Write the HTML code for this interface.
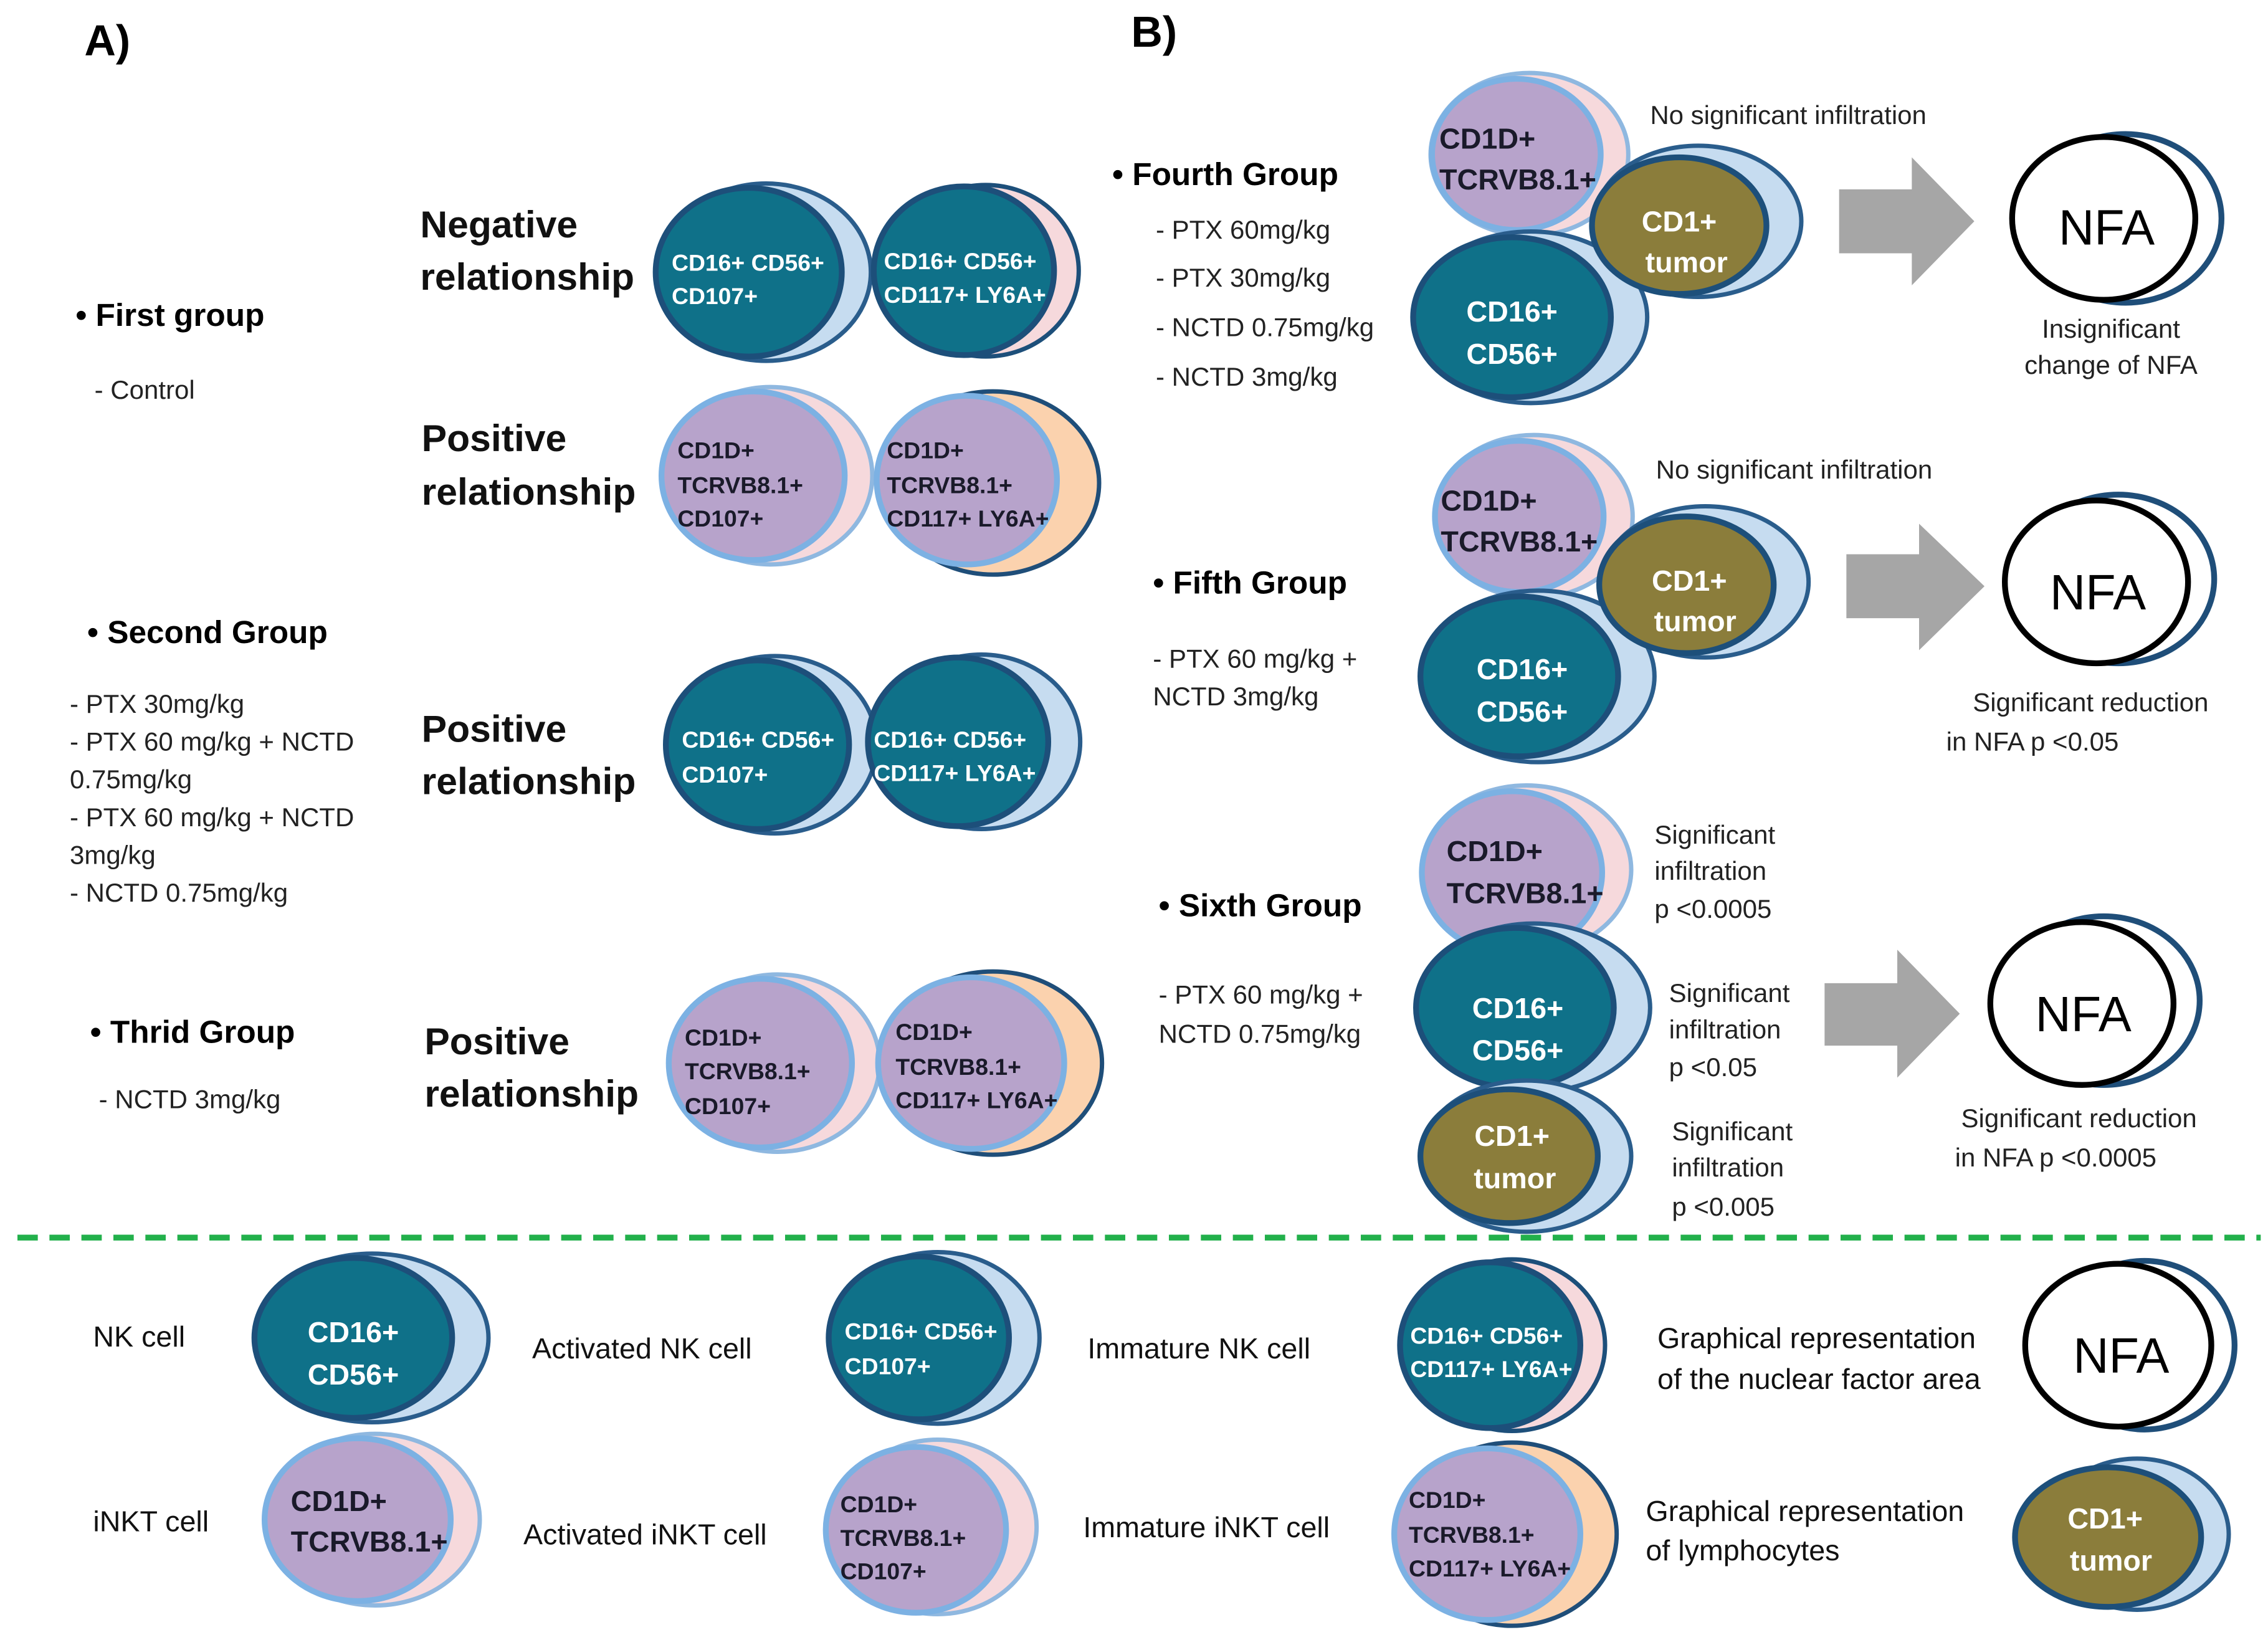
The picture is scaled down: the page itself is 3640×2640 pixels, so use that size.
<!DOCTYPE html>
<html><head><meta charset="utf-8"><style>
html,body{margin:0;padding:0;background:#fff;}
svg{display:block;}
text{font-family:"Liberation Sans",sans-serif;}
.b{font-weight:bold;}
.w{fill:#fff;font-weight:bold;}
.d{fill:#1a1a2a;font-weight:bold;}
.g{font-size:20px;fill:#111;}
.s{font-size:18px;fill:#222;}
.h{font-size:26px;font-weight:bold;fill:#111;}
</style></head><body>
<svg width="3640" height="2640" viewBox="0 0 1560 1131" xmlns="http://www.w3.org/2000/svg">
<defs>
<marker id="m"/>
</defs>
<text x="58" y="38" font-size="30" class="b">A)</text>
<text x="778" y="32" font-size="30" class="b">B)</text>

<!-- A groups -->
<text x="52" y="224" font-size="22" class="b">•  First group</text>
<text x="65" y="274" class="s">- Control</text>
<text x="60" y="442" font-size="22" class="b">•  Second Group</text>
<text x="48" y="490" class="s">- PTX 30mg/kg</text>
<text x="48" y="516" class="s">- PTX 60 mg/kg + NCTD</text>
<text x="48" y="542" class="s">0.75mg/kg</text>
<text x="48" y="568" class="s">- PTX 60 mg/kg + NCTD</text>
<text x="48" y="594" class="s">3mg/kg</text>
<text x="48" y="620" class="s">- NCTD 0.75mg/kg</text>
<text x="62" y="717" font-size="22" class="b">•  Thrid Group</text>
<text x="68" y="762" class="s">- NCTD 3mg/kg</text>

<text x="289" y="163" class="h">Negative</text><text x="289" y="199" class="h">relationship</text>
<text x="290" y="310" class="h">Positive</text><text x="290" y="347" class="h">relationship</text>
<text x="290" y="510" class="h">Positive</text><text x="290" y="546" class="h">relationship</text>
<text x="292" y="725" class="h">Positive</text><text x="292" y="761" class="h">relationship</text>

<!-- Row1 -->
<ellipse cx="527" cy="187" rx="72" ry="61" fill="#c6dcf0" stroke="#2a5d8c" stroke-width="3"/>
<ellipse cx="515" cy="187" rx="64" ry="58" fill="#0f7189" stroke="#1d4f7a" stroke-width="4"/>
<text x="462" y="186" font-size="16" class="w">CD16+ CD56+</text><text x="462" y="209" font-size="16" class="w">CD107+</text>
<ellipse cx="678" cy="186" rx="64" ry="59" fill="#f6d9dc" stroke="#1d4f7a" stroke-width="3"/>
<ellipse cx="663" cy="186" rx="62" ry="58" fill="#0f7189" stroke="#1d4f7a" stroke-width="4"/>
<text x="608" y="185" font-size="16" class="w">CD16+ CD56+</text><text x="608" y="208" font-size="16" class="w">CD117+ LY6A+</text>
<!-- Row2 -->
<ellipse cx="530" cy="327" rx="70" ry="61" fill="#f6d9dc" stroke="#8fb8e0" stroke-width="3"/>
<ellipse cx="518" cy="327" rx="63" ry="58" fill="#b7a3cb" stroke="#7cb1e3" stroke-width="4"/>
<text x="466" y="315" font-size="16" class="d">CD1D+</text><text x="466" y="339" font-size="16" class="d">TCRVB8.1+</text><text x="466" y="362" font-size="16" class="d">CD107+</text>
<ellipse cx="683" cy="332" rx="73" ry="63" fill="#fbd2ae" stroke="#1f4e79" stroke-width="3"/>
<ellipse cx="665" cy="330" rx="62" ry="58" fill="#b7a3cb" stroke="#7cb1e3" stroke-width="4"/>
<text x="610" y="315" font-size="16" class="d">CD1D+</text><text x="610" y="339" font-size="16" class="d">TCRVB8.1+</text><text x="610" y="362" font-size="16" class="d">CD117+ LY6A+</text>
<!-- Row3 -->
<ellipse cx="533" cy="512" rx="70" ry="61" fill="#c6dcf0" stroke="#2a5d8c" stroke-width="3"/>
<ellipse cx="521" cy="512" rx="63" ry="58" fill="#0f7189" stroke="#1d4f7a" stroke-width="4"/>
<text x="469" y="514" font-size="16" class="w">CD16+ CD56+</text><text x="469" y="538" font-size="16" class="w">CD107+</text>
<ellipse cx="675" cy="510" rx="68" ry="60" fill="#c6dcf0" stroke="#2a5d8c" stroke-width="3"/>
<ellipse cx="659" cy="510" rx="62" ry="58" fill="#0f7189" stroke="#1d4f7a" stroke-width="4"/>
<text x="601" y="514" font-size="16" class="w">CD16+ CD56+</text><text x="601" y="537" font-size="16" class="w">CD117+ LY6A+</text>
<!-- Row4 -->
<ellipse cx="535" cy="731" rx="70" ry="61" fill="#f6d9dc" stroke="#8fb8e0" stroke-width="3"/>
<ellipse cx="523" cy="731" rx="63" ry="58" fill="#b7a3cb" stroke="#7cb1e3" stroke-width="4"/>
<text x="471" y="719" font-size="16" class="d">CD1D+</text><text x="471" y="742" font-size="16" class="d">TCRVB8.1+</text><text x="471" y="766" font-size="16" class="d">CD107+</text>
<ellipse cx="683" cy="731" rx="75" ry="63" fill="#fbd2ae" stroke="#1f4e79" stroke-width="3"/>
<ellipse cx="668" cy="731" rx="64" ry="59" fill="#b7a3cb" stroke="#7cb1e3" stroke-width="4"/>
<text x="616" y="715" font-size="16" class="d">CD1D+</text><text x="616" y="739" font-size="16" class="d">TCRVB8.1+</text><text x="616" y="762" font-size="16" class="d">CD117+ LY6A+</text>

<!-- B Fourth -->
<text x="765" y="127" font-size="22" class="b">•  Fourth Group</text>
<text x="795" y="164" class="s">- PTX 60mg/kg</text>
<text x="795" y="197" class="s">- PTX 30mg/kg</text>
<text x="795" y="231" class="s">- NCTD 0.75mg/kg</text>
<text x="795" y="265" class="s">- NCTD 3mg/kg</text>
<ellipse cx="1052" cy="106" rx="68" ry="56" fill="#f6d9dc" stroke="#8fb8e0" stroke-width="3"/>
<ellipse cx="1043" cy="106" rx="58" ry="52" fill="#b7a3cb" stroke="#7cb1e3" stroke-width="4"/>
<text x="990" y="102" font-size="20" class="d">CD1D+</text><text x="990" y="130" font-size="20" class="d">TCRVB8.1+</text>
<ellipse cx="1053" cy="218" rx="80" ry="59" fill="#c6dcf0" stroke="#2a5d8c" stroke-width="3"/>
<ellipse cx="1040" cy="218" rx="68" ry="55" fill="#0f7189" stroke="#1d4f7a" stroke-width="4"/>
<text x="1040" y="221" font-size="20" class="w" text-anchor="middle">CD16+</text><text x="1040" y="250" font-size="20" class="w" text-anchor="middle">CD56+</text>
<ellipse cx="1168" cy="152" rx="71" ry="52" fill="#c6dcf0" stroke="#2a5d8c" stroke-width="3"/>
<ellipse cx="1155" cy="155" rx="60" ry="47" fill="#8b7d3b" stroke="#1d4f7a" stroke-width="4"/>
<text x="1155" y="159" font-size="20" class="w" text-anchor="middle">CD1+</text><text x="1160" y="187" font-size="20" class="w" text-anchor="middle">tumor</text>
<text x="1135" y="85" class="s">No significant infiltration</text>
<polygon points="1265,130 1315,130 1315,108 1358,152 1315,196 1315,174 1265,174" fill="#a6a6a6"/>
<ellipse cx="1462" cy="150" rx="66" ry="58" fill="#fff" stroke="#1f4e79" stroke-width="4"/>
<ellipse cx="1447" cy="150" rx="63" ry="56" fill="#fff" stroke="#000" stroke-width="4"/>
<text x="1449" y="168" font-size="34" text-anchor="middle">NFA</text>
<text x="1452" y="232" class="s" text-anchor="middle">Insignificant</text>
<text x="1452" y="257" class="s" text-anchor="middle">change of NFA</text>

<!-- Fifth -->
<text x="793" y="408" font-size="22" class="b">•  Fifth Group</text>
<text x="793" y="459" class="s">- PTX 60 mg/kg +</text>
<text x="793" y="485" class="s">NCTD 3mg/kg</text>
<ellipse cx="1055" cy="355" rx="68" ry="56" fill="#f6d9dc" stroke="#8fb8e0" stroke-width="3"/>
<ellipse cx="1045" cy="355" rx="58" ry="52" fill="#b7a3cb" stroke="#7cb1e3" stroke-width="4"/>
<text x="991" y="351" font-size="20" class="d">CD1D+</text><text x="991" y="379" font-size="20" class="d">TCRVB8.1+</text>
<ellipse cx="1058" cy="465" rx="80" ry="59" fill="#c6dcf0" stroke="#2a5d8c" stroke-width="3"/>
<ellipse cx="1045" cy="465" rx="68" ry="55" fill="#0f7189" stroke="#1d4f7a" stroke-width="4"/>
<text x="1047" y="467" font-size="20" class="w" text-anchor="middle">CD16+</text><text x="1047" y="496" font-size="20" class="w" text-anchor="middle">CD56+</text>
<ellipse cx="1173" cy="400" rx="71" ry="52" fill="#c6dcf0" stroke="#2a5d8c" stroke-width="3"/>
<ellipse cx="1160" cy="402" rx="60" ry="47" fill="#8b7d3b" stroke="#1d4f7a" stroke-width="4"/>
<text x="1162" y="406" font-size="20" class="w" text-anchor="middle">CD1+</text><text x="1166" y="434" font-size="20" class="w" text-anchor="middle">tumor</text>
<text x="1139" y="329" class="s">No significant infiltration</text>
<polygon points="1270,381 1320,381 1320,360 1365,403 1320,447 1320,425 1270,425" fill="#a6a6a6"/>
<ellipse cx="1457" cy="398" rx="66" ry="58" fill="#fff" stroke="#1f4e79" stroke-width="4"/>
<ellipse cx="1442" cy="400" rx="63" ry="56" fill="#fff" stroke="#000" stroke-width="4"/>
<text x="1443" y="419" font-size="34" text-anchor="middle">NFA</text>
<text x="1438" y="489" class="s" text-anchor="middle">Significant reduction</text>
<text x="1398" y="516" class="s" text-anchor="middle">in NFA p &lt;0.05</text>

<!-- Sixth -->
<text x="797" y="630" font-size="22" class="b">•  Sixth Group</text>
<text x="797" y="690" class="s">- PTX 60 mg/kg +</text>
<text x="797" y="717" class="s">NCTD 0.75mg/kg</text>
<ellipse cx="1050" cy="598" rx="72" ry="58" fill="#f6d9dc" stroke="#8fb8e0" stroke-width="3"/>
<ellipse cx="1040" cy="600" rx="62" ry="56" fill="#b7a3cb" stroke="#7cb1e3" stroke-width="4"/>
<text x="995" y="592" font-size="20" class="d">CD1D+</text><text x="995" y="621" font-size="20" class="d">TCRVB8.1+</text>
<ellipse cx="1055" cy="693" rx="80" ry="58" fill="#c6dcf0" stroke="#2a5d8c" stroke-width="3"/>
<ellipse cx="1042" cy="693" rx="68" ry="55" fill="#0f7189" stroke="#1d4f7a" stroke-width="4"/>
<text x="1044" y="700" font-size="20" class="w" text-anchor="middle">CD16+</text><text x="1044" y="729" font-size="20" class="w" text-anchor="middle">CD56+</text>
<ellipse cx="1050" cy="795" rx="72" ry="52" fill="#c6dcf0" stroke="#2a5d8c" stroke-width="3"/>
<ellipse cx="1038" cy="795" rx="61" ry="46" fill="#8b7d3b" stroke="#1d4f7a" stroke-width="4"/>
<text x="1040" y="788" font-size="20" class="w" text-anchor="middle">CD1+</text><text x="1042" y="817" font-size="20" class="w" text-anchor="middle">tumor</text>
<text x="1138" y="580" class="s">Significant</text><text x="1138" y="605" class="s">infiltration</text><text x="1138" y="631" class="s">p &lt;0.0005</text>
<text x="1148" y="689" class="s">Significant</text><text x="1148" y="714" class="s">infiltration</text><text x="1148" y="740" class="s">p &lt;0.05</text>
<text x="1150" y="784" class="s">Significant</text><text x="1150" y="809" class="s">infiltration</text><text x="1150" y="836" class="s">p &lt;0.005</text>
<polygon points="1255,676 1305,676 1305,653 1348,697 1305,741 1305,719 1255,719" fill="#a6a6a6"/>
<ellipse cx="1447" cy="688" rx="66" ry="58" fill="#fff" stroke="#1f4e79" stroke-width="4"/>
<ellipse cx="1432" cy="690" rx="63" ry="56" fill="#fff" stroke="#000" stroke-width="4"/>
<text x="1433" y="709" font-size="34" text-anchor="middle">NFA</text>
<text x="1430" y="775" class="s" text-anchor="middle">Significant reduction</text>
<text x="1414" y="802" class="s" text-anchor="middle">in NFA p &lt;0.0005</text>

<line x1="12" y1="851" x2="1555" y2="851" stroke="#22b04b" stroke-width="4" stroke-dasharray="14,8"/>

<!-- Legend -->
<text x="64" y="926" class="g">NK cell</text>
<ellipse cx="256" cy="920" rx="80" ry="58" fill="#c6dcf0" stroke="#2a5d8c" stroke-width="3"/>
<ellipse cx="243" cy="920" rx="68" ry="55" fill="#0f7189" stroke="#1d4f7a" stroke-width="4"/>
<text x="243" y="923" font-size="20" class="w" text-anchor="middle">CD16+</text><text x="243" y="952" font-size="20" class="w" text-anchor="middle">CD56+</text>
<text x="366" y="934" class="g">Activated NK cell</text>
<ellipse cx="645" cy="920" rx="70" ry="59" fill="#c6dcf0" stroke="#2a5d8c" stroke-width="3"/>
<ellipse cx="632" cy="920" rx="62" ry="56" fill="#0f7189" stroke="#1d4f7a" stroke-width="4"/>
<text x="581" y="921" font-size="16" class="w">CD16+ CD56+</text><text x="581" y="945" font-size="16" class="w">CD107+</text>
<text x="748" y="934" class="g">Immature NK cell</text>
<ellipse cx="1040" cy="925" rx="64" ry="59" fill="#f6d9dc" stroke="#1d4f7a" stroke-width="3"/>
<ellipse cx="1025" cy="925" rx="62" ry="57" fill="#0f7189" stroke="#1d4f7a" stroke-width="4"/>
<text x="970" y="924" font-size="16" class="w">CD16+ CD56+</text><text x="970" y="947" font-size="16" class="w">CD117+ LY6A+</text>
<text x="1140" y="927" class="g">Graphical  representation</text>
<text x="1140" y="955" class="g">of the nuclear factor area</text>
<ellipse cx="1475" cy="925" rx="62" ry="58" fill="#fff" stroke="#1f4e79" stroke-width="4"/>
<ellipse cx="1457" cy="925" rx="64" ry="56" fill="#fff" stroke="#000" stroke-width="4"/>
<text x="1459" y="944" font-size="34" text-anchor="middle">NFA</text>

<text x="64" y="1053" class="g">iNKT cell</text>
<ellipse cx="258" cy="1045" rx="72" ry="59" fill="#f6d9dc" stroke="#8fb8e0" stroke-width="3"/>
<ellipse cx="246" cy="1045" rx="64" ry="56" fill="#b7a3cb" stroke="#7cb1e3" stroke-width="4"/>
<text x="200" y="1039" font-size="20" class="d">CD1D+</text><text x="200" y="1067" font-size="20" class="d">TCRVB8.1+</text>
<text x="360" y="1062" class="g">Activated iNKT cell</text>
<ellipse cx="645" cy="1050" rx="68" ry="60" fill="#f6d9dc" stroke="#8fb8e0" stroke-width="3"/>
<ellipse cx="630" cy="1052" rx="62" ry="57" fill="#b7a3cb" stroke="#7cb1e3" stroke-width="4"/>
<text x="578" y="1040" font-size="16" class="d">CD1D+</text><text x="578" y="1063" font-size="16" class="d">TCRVB8.1+</text><text x="578" y="1086" font-size="16" class="d">CD107+</text>
<text x="745" y="1057" class="g">Immature iNKT cell</text>
<ellipse cx="1040" cy="1055" rx="72" ry="63" fill="#fbd2ae" stroke="#1f4e79" stroke-width="3"/>
<ellipse cx="1023" cy="1055" rx="64" ry="59" fill="#b7a3cb" stroke="#7cb1e3" stroke-width="4"/>
<text x="969" y="1037" font-size="16" class="d">CD1D+</text><text x="969" y="1061" font-size="16" class="d">TCRVB8.1+</text><text x="969" y="1084" font-size="16" class="d">CD117+ LY6A+</text>
<text x="1132" y="1046" class="g">Graphical  representation</text>
<text x="1132" y="1073" class="g">of lymphocytes</text>
<ellipse cx="1470" cy="1055" rx="63" ry="52" fill="#c6dcf0" stroke="#2a5d8c" stroke-width="3"/>
<ellipse cx="1450" cy="1057" rx="64" ry="48" fill="#8b7d3b" stroke="#1d4f7a" stroke-width="4"/>
<text x="1448" y="1051" font-size="20" class="w" text-anchor="middle">CD1+</text><text x="1452" y="1080" font-size="20" class="w" text-anchor="middle">tumor</text>
</svg>
</body></html>
